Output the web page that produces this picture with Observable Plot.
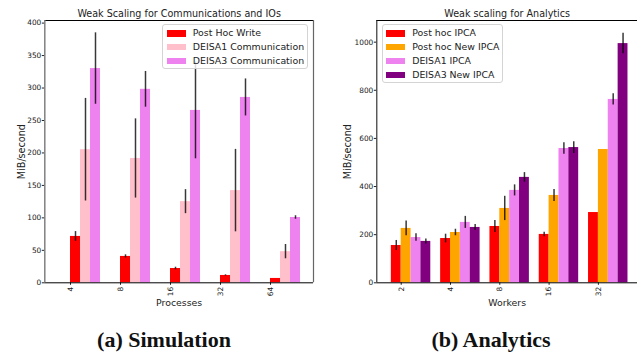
<!DOCTYPE html>
<html><head><meta charset="utf-8">
<script src="https://cdn.jsdelivr.net/npm/d3@7"></script>
<script src="https://cdn.jsdelivr.net/npm/@observablehq/plot@0.6"></script>
<style>
body{margin:0;background:#fff;overflow:hidden}
#wrap{position:relative;width:637px;height:356px;font-family:"DejaVu Sans",sans-serif;overflow:hidden}
.panel{position:absolute;top:0}
.legend{position:absolute;border:1px solid #d4d4d4;border-radius:3px;background:rgba(255,255,255,0.82);box-sizing:border-box}
.row{position:absolute;left:0;height:14px;line-height:14px;font-size:9.4px;color:#222;white-space:nowrap}
.sw{position:absolute;width:19px;height:6.5px;top:3.75px}
.lab{position:absolute;top:0}
.caption{position:absolute;font-family:"Liberation Serif",serif;font-weight:bold;font-size:22px;transform:translateX(-50%);white-space:nowrap;color:#111;line-height:22px}
</style>
</head><body>
<div id="wrap"></div>
<script>
// ---------- Data: (a) Simulation ----------
const processes = ["4", "8", "16", "32", "64"];
const simSeries = ["Post Hoc Write", "DEISA1 Communication", "DEISA3 Communication"];
const simColors = ["#ff0000", "#ffc0cb", "#ee82ee"];
const postHocWrite      = [71.4, 40.6, 22, 11.3, 6.7];
const postHocWriteErr   = [7.5, 2.5, 2, 1, 0];
const deisa1Comm        = [205, 191.5, 125, 142, 48];
const deisa1CommErr     = [79, 61, 18.5, 63.5, 11];
const deisa3Comm        = [330, 298, 265.5, 285.5, 100.6];
const deisa3CommErr     = [55, 27.5, 74.5, 28.5, 2.7];
const simTicks = [0, 50, 100, 150, 200, 250, 300, 350, 400];

// ---------- Data: (b) Analytics ----------
const workers = ["2", "4", "8", "16", "32"];
const anaSeries = ["Post hoc IPCA", "Post hoc New IPCA", "DEISA1 IPCA", "DEISA3 New IPCA"];
const anaColors = ["#ff0000", "#ffa500", "#ee82ee", "#800080"];
const postHocIPCA       = [155, 184, 234, 201, 292];
const postHocIPCAErr    = [21, 18, 25, 9.5, 0];
const postHocNewIPCA    = [226, 209, 309, 363, 554];
const postHocNewIPCAErr = [31, 13.5, 50.5, 25, 0];
const deisa1IPCA        = [188, 251, 384, 558, 762];
const deisa1IPCAErr     = [15.5, 25, 23, 24, 23.5];
const deisa3NewIPCA     = [172, 230, 438, 562, 994];
const deisa3NewIPCAErr  = [10.5, 12, 20, 24.5, 42.5];
const anaTicks = [0, 200, 400, 600, 800, 1000];

const BW = 0.2; // bar width in group units

function build(seriesVals, seriesErrs, colors, firstOffset) {
  const out = [];
  seriesVals.forEach((vals, k) => {
    vals.forEach((v, i) => {
      out.push({i, k, v, e: seriesErrs[k][i], c: colors[k], off: firstOffset + k * BW});
    });
  });
  return out;
}

const simData = build([postHocWrite, deisa1Comm, deisa3Comm],
                      [postHocWriteErr, deisa1CommErr, deisa3CommErr], simColors, 0);
const anaData = build([postHocIPCA, postHocNewIPCA, deisa1IPCA, deisa3NewIPCA],
                      [postHocIPCAErr, postHocNewIPCAErr, deisa1IPCAErr, deisa3NewIPCAErr], anaColors, -BW);

const baseStyle = {fontFamily: "DejaVu Sans", fontSize: "7.4px", color: "#222", background: "white", overflow: "visible"};

function panel(opts) {
  const {data, cats, xDomain, yDomain, yTicks, width, marginLeft, marginRight, xLabel, yLabelOffset, title, leftSpine, rightSpine} = opts;
  const marks = [
    Plot.rectY(data, {x1: d => d.i + d.off, x2: d => d.i + d.off + BW, y1: 0, y2: "v", fill: "c"}),
    Plot.ruleX(data.filter(d => d.e > 0), {x: d => d.i + d.off + BW / 2, y1: d => d.v - d.e, y2: d => d.v + d.e, stroke: "#000", strokeOpacity: 0.78, strokeWidth: 1.5}),
    Plot.axisX({ticks: cats.map((_, i) => i), tickFormat: i => cats[i], tickRotate: -90, tickSize: 2.5, tickPadding: 1.5, label: null, fontSize: "7.4px"}),
    Plot.axisX({ticks: [], tickSize: 0, label: xLabel, labelAnchor: "center", labelOffset: 23, labelArrow: "none", fontSize: "9.4px"}),
    Plot.axisY({ticks: yTicks, tickFormat: d => String(d), tickSize: 2.5, tickPadding: 1, label: null, fontSize: "7.4px"}),
    Plot.axisY({ticks: [], tickSize: 0, label: "MiB/second", labelAnchor: "center", labelOffset: yLabelOffset, labelArrow: "none", fontSize: "9.6px"}),
    Plot.ruleY([yDomain[0]], {stroke: "#000", strokeWidth: 1}),
    Plot.ruleY([yDomain[1]], {stroke: "#000", strokeWidth: 1}),
    Plot.ruleX([xDomain[0]], {stroke: leftSpine.color, strokeWidth: leftSpine.width}),
    Plot.text([title], {frameAnchor: "top", lineAnchor: "middle", dy: -6.5, fontSize: 9.6, fill: "#222"})
  ];
  if (rightSpine) marks.push(Plot.ruleX([xDomain[1]], {stroke: rightSpine.color, strokeWidth: rightSpine.width}));
  return Plot.plot({
    width, height: 312, marginLeft, marginRight, marginTop: 20, marginBottom: 29.7,
    x: {domain: xDomain},
    y: {domain: yDomain},
    color: {type: "identity"},
    style: baseStyle,
    marks
  });
}

const wrap = document.getElementById("wrap");

const left = panel({
  data: simData, cats: processes, xDomain: [-0.514, 4.86], yDomain: [0, 404], yTicks: simTicks,
  width: 318, marginLeft: 44.3, marginRight: 5, xLabel: "Processes", yLabelOffset: 27,
  title: "Weak Scaling for Communications and IOs",
  leftSpine: {color: "#808080", width: 1.5}, rightSpine: {color: "#666", width: 1.2}
});
const leftDiv = document.createElement("div");
leftDiv.className = "panel"; leftDiv.style.left = "0px";
leftDiv.appendChild(left);
wrap.appendChild(leftDiv);

const right = panel({
  data: anaData, cats: workers, xDomain: [-0.495, 4.793], yDomain: [0, 1090], yTicks: anaTicks,
  width: 319, marginLeft: 58.3, marginRight: 0, xLabel: "Workers", yLabelOffset: 33,
  title: "Weak scaling for Analytics",
  leftSpine: {color: "#222", width: 1.1}, rightSpine: null
});
const rightDiv = document.createElement("div");
rightDiv.className = "panel"; rightDiv.style.left = "318px";
rightDiv.appendChild(right);
wrap.appendChild(rightDiv);

function legend(series, colors, box) {
  const lg = document.createElement("div");
  lg.className = "legend";
  Object.assign(lg.style, {left: box.left + "px", top: box.top + "px", width: box.width + "px", height: box.height + "px"});
  series.forEach((s, k) => {
    const row = document.createElement("div");
    row.className = "row";
    row.style.top = (box.firstRow - 7 + k * 13.9) + "px";
    row.style.width = box.width + "px";
    const sw = document.createElement("div");
    sw.className = "sw"; sw.style.left = "3.5px"; sw.style.background = colors[k];
    const t = document.createElement("div");
    t.className = "lab"; t.style.left = "29.5px"; t.textContent = s;
    row.appendChild(sw); row.appendChild(t);
    lg.appendChild(row);
  });
  wrap.appendChild(lg);
}
legend(simSeries, simColors, {left: 162.3, top: 24, width: 146, height: 45, firstRow: 8.3});
legend(anaSeries, anaColors, {left: 381.7, top: 24, width: 121.6, height: 58.7, firstRow: 8.3});

function caption(text, cx) {
  const c = document.createElement("div");
  c.className = "caption"; c.textContent = text;
  c.style.left = cx + "px"; c.style.top = "329px";
  wrap.appendChild(c);
}
caption("(a) Simulation", 164);
caption("(b) Analytics", 491);
</script>
</body></html>
